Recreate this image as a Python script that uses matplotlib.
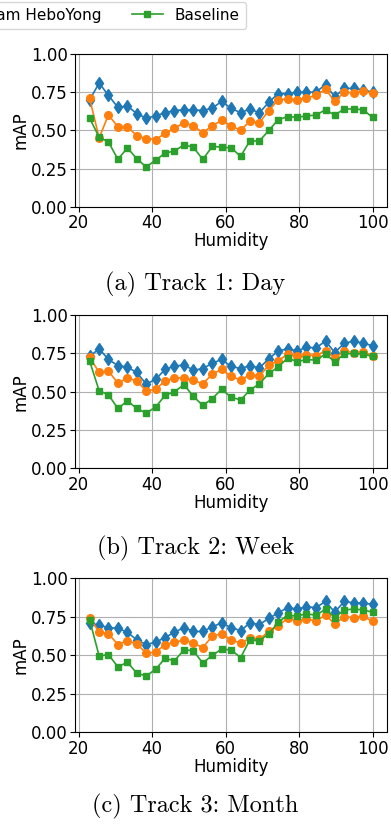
import matplotlib
matplotlib.use("Agg")
import matplotlib.pyplot as plt

humidity = [23.0, 25.6, 28.1, 30.7, 33.3, 35.8, 38.4, 41.0, 43.5, 46.1, 48.7,
            51.2, 53.8, 56.4, 58.9, 61.5, 64.1, 66.6, 69.2, 71.8, 74.3, 76.9,
            79.5, 82.0, 84.6, 87.2, 89.7, 92.3, 94.9, 97.4, 100.0]

labels = ["Ours", "Team HeboYong", "Baseline"]
captions = ["(a) Track 1: Day", "(b) Track 2: Week", "(c) Track 3: Month"]

day_ours = [0.70, 0.81, 0.73, 0.65, 0.66, 0.61, 0.58, 0.595, 0.615, 0.63, 0.635,
            0.635, 0.63, 0.645, 0.69, 0.645, 0.615, 0.64, 0.615, 0.685, 0.74, 0.74,
            0.75, 0.75, 0.75, 0.80, 0.72, 0.775, 0.775, 0.765, 0.75]
day_hebo = [0.71, 0.45, 0.60, 0.525, 0.525, 0.465, 0.445, 0.44, 0.48, 0.515, 0.55,
            0.53, 0.485, 0.53, 0.565, 0.53, 0.50, 0.56, 0.55, 0.63, 0.70, 0.705,
            0.70, 0.71, 0.73, 0.77, 0.69, 0.75, 0.745, 0.755, 0.745]
day_base = [0.58, 0.455, 0.425, 0.31, 0.385, 0.315, 0.26, 0.305, 0.35, 0.365, 0.405,
            0.39, 0.31, 0.395, 0.39, 0.385, 0.33, 0.43, 0.43, 0.50, 0.57, 0.59,
            0.585, 0.595, 0.60, 0.635, 0.60, 0.64, 0.64, 0.635, 0.585]

week_ours = [0.73, 0.78, 0.71, 0.67, 0.66, 0.625, 0.55, 0.58, 0.645, 0.665, 0.675,
             0.64, 0.65, 0.685, 0.71, 0.665, 0.65, 0.67, 0.655, 0.715, 0.765, 0.78,
             0.765, 0.79, 0.785, 0.83, 0.755, 0.815, 0.83, 0.815, 0.80]
week_hebo = [0.725, 0.625, 0.635, 0.555, 0.59, 0.57, 0.505, 0.515, 0.57, 0.59, 0.59,
             0.575, 0.55, 0.615, 0.645, 0.60, 0.575, 0.61, 0.60, 0.675, 0.70, 0.745,
             0.735, 0.74, 0.735, 0.765, 0.72, 0.765, 0.755, 0.76, 0.735]
week_base = [0.70, 0.505, 0.48, 0.39, 0.44, 0.39, 0.36, 0.40, 0.475, 0.50, 0.545,
             0.47, 0.41, 0.455, 0.515, 0.465, 0.445, 0.51, 0.55, 0.62, 0.66, 0.72,
             0.695, 0.71, 0.705, 0.745, 0.695, 0.745, 0.75, 0.745, 0.73]

month_ours = [0.71, 0.695, 0.68, 0.675, 0.65, 0.60, 0.57, 0.585, 0.615, 0.65, 0.68,
              0.655, 0.655, 0.685, 0.71, 0.68, 0.66, 0.71, 0.70, 0.74, 0.775, 0.81,
              0.80, 0.815, 0.81, 0.85, 0.78, 0.85, 0.84, 0.84, 0.83]
month_hebo = [0.745, 0.65, 0.64, 0.57, 0.595, 0.575, 0.515, 0.52, 0.57, 0.585, 0.60,
              0.58, 0.55, 0.625, 0.64, 0.60, 0.58, 0.61, 0.605, 0.655, 0.69, 0.74,
              0.725, 0.735, 0.725, 0.76, 0.705, 0.75, 0.745, 0.755, 0.72]
month_base = [0.73, 0.495, 0.505, 0.425, 0.455, 0.385, 0.365, 0.41, 0.48, 0.465, 0.535,
              0.53, 0.45, 0.50, 0.54, 0.535, 0.485, 0.60, 0.595, 0.64, 0.715, 0.76,
              0.755, 0.77, 0.76, 0.80, 0.745, 0.795, 0.80, 0.795, 0.78]

panels = [(day_ours, day_hebo, day_base),
          (week_ours, week_hebo, week_base),
          (month_ours, month_hebo, month_base)]

colors = ["#1f77b4", "#ff7f0e", "#2ca02c"]
markers = ["d", "o", "s"]
msizes = [6, 5.5, 5]

fig = plt.figure(figsize=(3.91, 8.25), dpi=100)

rects = [(0.193, 0.7495, 0.796, 0.185),
         (0.193, 0.4324, 0.796, 0.1858),
         (0.193, 0.1124, 0.796, 0.1866)]
cap_y = [1 - 284 / 825, 1 - 548 / 825, 1 - 806 / 825]

handles = None
for i, (rect, series) in enumerate(zip(rects, panels)):
    ax = fig.add_axes(rect)
    hs = []
    for s, c, m, ms, lab in zip(series, colors, markers, msizes, labels):
        h, = ax.plot(humidity, s, color=c, marker=m, markersize=ms, lw=1.2, label=lab)
        hs.append(h)
    if handles is None:
        handles = hs
    ax.set_ylim(0, 1)
    ax.set_yticks([0.0, 0.25, 0.5, 0.75, 1.0])
    ax.set_xticks([20, 40, 60, 80, 100])
    ax.grid(True)
    ax.tick_params(labelsize=12, pad=2)
    ax.set_xlabel("Humidity", fontsize=12, labelpad=0)
    ax.set_ylabel("mAP", fontsize=12, labelpad=1)
    fig.text(0.5, cap_y[i], captions[i], ha="center", va="center",
             fontsize=17.5, family="cmr10")

fig.legend(handles=handles, labels=labels, loc="upper right",
           bbox_to_anchor=(246 / 391, 1 - 1.5 / 825), ncol=3, fontsize=11,
           frameon=True, borderaxespad=0, columnspacing=2.0)

fig.savefig("out.png", dpi=100)
